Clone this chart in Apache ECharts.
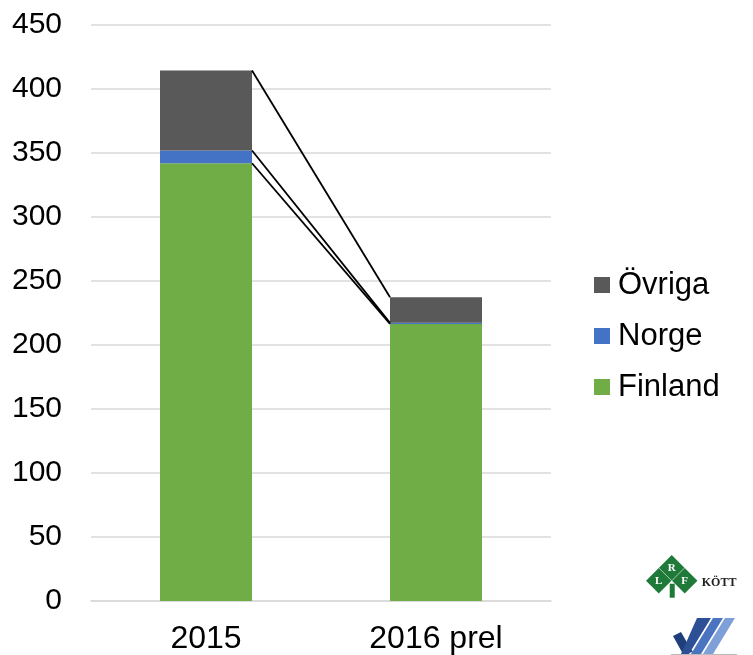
<!DOCTYPE html>
<html>
<head>
<meta charset="utf-8">
<script src="https://cdn.jsdelivr.net/npm/echarts@6/dist/echarts.min.js"></script>
<style>
  html, body { margin: 0; padding: 0; background: #fff; }
  #chart { width: 753px; height: 655px; }
</style>
</head>
<body>
<div id="chart"></div>
<script>
// kategorier och värden
const years = ['2015', '2016 prel'];
const finland = [342, 216.5];
const norge = [10, 0.8];
const ovriga = [62.5, 20];
const yTicks = { min: 0, max: 450, interval: 50 };

const colors = { finland: '#70ad47', norge: '#4472c4', ovriga: '#595959' };

// kumulerade nivåer för serielinjerna
const levels = [
    [finland[0], finland[1]],
    [finland[0] + norge[0], finland[1] + norge[1]],
    [finland[0] + norge[0] + ovriga[0], finland[1] + norge[1] + ovriga[1]]
];

const chart = echarts.init(document.getElementById('chart'));

function barSeries(name, data, color) {
    return {
        name,
        type: 'bar',
        stack: 'total',
        data,
        barWidth: '40%',
        itemStyle: { color },
        emphasis: { disabled: true },
        z: 2
    };
}

const leaf = { type: 'rect', shape: { x: -9, y: -9, width: 18, height: 18 }, rotation: Math.PI / 4, style: { fill: '#1f7a3a' } };
const leafText = (t, x, y) => ({ type: 'text', x, y, style: { text: t, fill: '#fff', font: 'bold 11px Liberation Serif', align: 'center', verticalAlign: 'middle' } });

chart.setOption({
    animation: false,
    textStyle: { fontFamily: 'Liberation Sans, Arial, sans-serif' },
    grid: { left: 91, right: 202, top: 25, bottom: 54 },
    legend: {
        data: ['Övriga', 'Norge', 'Finland'],
        orient: 'vertical',
        left: 589,
        top: 263,
        itemWidth: 16,
        itemHeight: 16,
        itemGap: 17,
        icon: 'rect',
        textStyle: { fontSize: 31, color: '#000', lineHeight: 34, padding: [0, 0, 0, 3] }
    },
    xAxis: {
        type: 'category',
        data: years,
        axisLine: { lineStyle: { color: '#d9d9d9', width: 1.5 } },
        axisTick: { show: false },
        axisLabel: { fontSize: 32, color: '#000', margin: 22 }
    },
    yAxis: {
        type: 'value',
        min: yTicks.min,
        max: yTicks.max,
        interval: yTicks.interval,
        axisLine: { show: false },
        axisTick: { show: false },
        axisLabel: { fontSize: 30, color: '#000', margin: 29 },
        splitLine: { lineStyle: { color: '#d9d9d9', width: 1.5 } }
    },
    series: [
        barSeries('Finland', finland, colors.finland),
        barSeries('Norge', norge, colors.norge),
        barSeries('Övriga', ovriga, colors.ovriga),
        {
            type: 'custom',
            data: levels,
            silent: true,
            z: 3,
            renderItem: function (params, api) {
                const p0 = api.coord([0, api.value(0)]);
                const p1 = api.coord([1, api.value(1)]);
                const half = api.size([1, 0])[0] * 0.2;
                return {
                    type: 'line',
                    shape: { x1: p0[0] + half, y1: p0[1], x2: p1[0] - half, y2: p1[1] },
                    style: { stroke: '#000', lineWidth: 1.8 }
                };
            }
        }
    ],
    graphic: [
        // LRF Kött-logga (ungefärlig)
        {
            type: 'group', left: 646, top: 555,
            children: [
                Object.assign({}, leaf, { x: 25, y: 12 }),
                Object.assign({}, leaf, { x: 12, y: 25 }),
                Object.assign({}, leaf, { x: 38, y: 25 }),
                { type: 'rect', shape: { x: 23, y: 28, width: 5, height: 14 }, style: { fill: '#1f7a3a' } },
                leafText('R', 25, 12),
                leafText('L', 12, 25),
                leafText('F', 38, 25),
                { type: 'text', x: 55, y: 21, style: { text: 'KÖTT', fill: '#222', font: 'bold 12px Liberation Serif' } }
            ]
        },
        // bock-logga (ungefärlig)
        {
            type: 'group', left: 671, top: 618,
            children: [
                { type: 'polygon', shape: { points: [[0, 18], [8, 14], [16, 28], [20, 34], [10, 36]] }, style: { fill: '#1f3f7a' } },
                { type: 'polygon', shape: { points: [[24, 0], [38, 0], [16, 36], [8, 36]] }, style: { fill: '#2d4f95' } },
                { type: 'polygon', shape: { points: [[40, 0], [50, 0], [28, 36], [18, 36]] }, style: { fill: '#4a73c0' } },
                { type: 'polygon', shape: { points: [[52, 0], [62, 0], [40, 36], [30, 36]] }, style: { fill: '#7f9fd8' } },
                { type: 'rect', shape: { x: -2, y: 36, width: 66, height: 2 }, style: { fill: '#bbb' } }
            ]
        }
    ]
});
</script>
</body>
</html>
